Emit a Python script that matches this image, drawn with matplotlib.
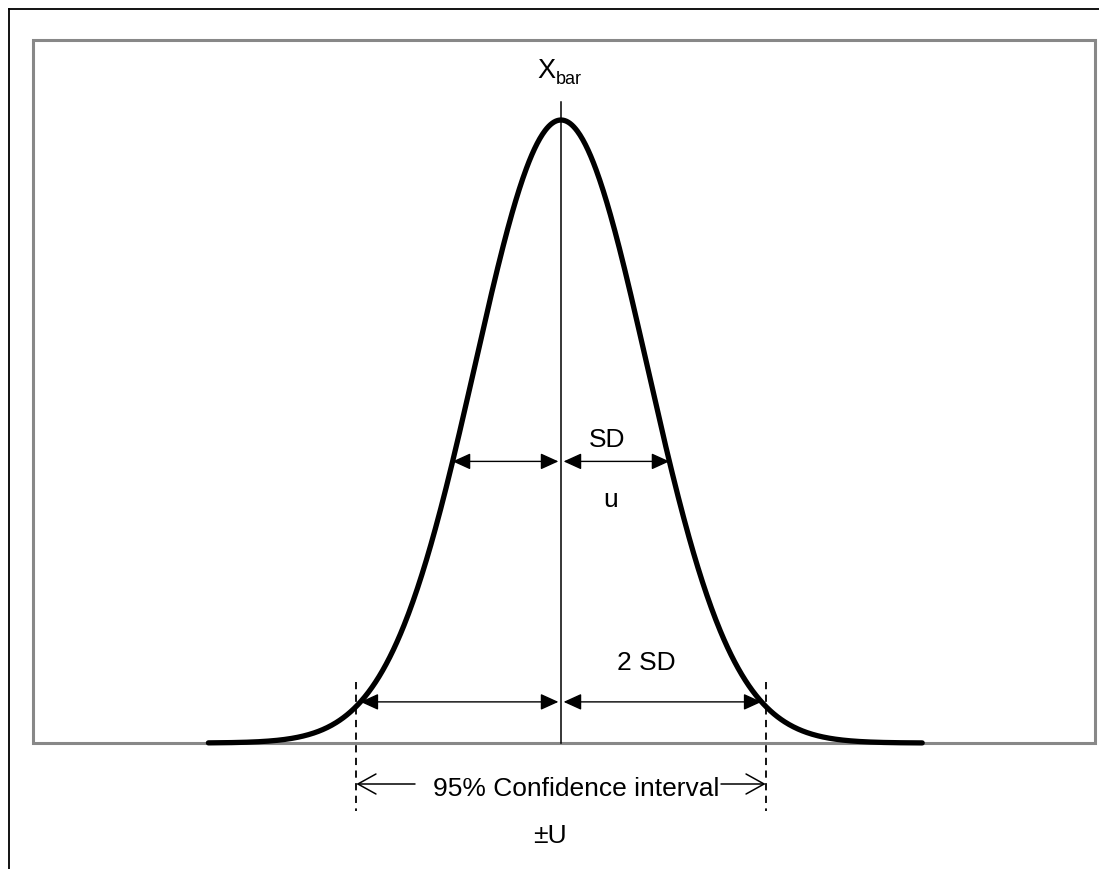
import numpy as np
import matplotlib
matplotlib.use("Agg")
import matplotlib.pyplot as plt
from matplotlib.patches import Rectangle

plt.rcParams['font.family'] = ['Liberation Sans', 'DejaVu Sans']

# ---- diagram data (x in units of SD, y as fraction of the peak height) ----
curve_range = [-4.1, 4.2]          # extent of the drawn bell curve (in SD)
sd_level = 0.452                   # height of the "SD" arrows (fraction of peak)
ci_level = 0.066                   # height of the "2 SD" arrows (fraction of peak)
ci_half_width = 2.38               # half width of the 95 % confidence interval (in SD)
center_top = 1.029                 # top of the central X_bar line
labels = {
    "xbar": "X",
    "xbar_sub": "bar",
    "sd": "SD",
    "u": "u",
    "two_sd": "2 SD",
    "ci": "95% Confidence interval",
    "U": "\u00b1U",
}

# ---- pixel layout of the reference ----
W, H = 1099, 870
MEAN_PX, SIGMA_PX, BASE_PX, PEAK_PX = 561, 86, 744, 623


def dx(px):
    return (px - MEAN_PX) / SIGMA_PX


def dy(py):
    return (BASE_PX - py) / PEAK_PX


fig = plt.figure(figsize=(W / 100, H / 100), dpi=100)
ax = fig.add_axes([0, 0, 1, 1])
ax.set_xlim(dx(0), dx(W))
ax.set_ylim(dy(H), dy(0))
ax.axis('off')

# outer frame (top and left only visible)
ax.plot([dx(8.5), dx(W + 5)], [dy(9.5), dy(9.5)], color='black', lw=1.3,
        solid_capstyle='projecting')
ax.plot([dx(8.5), dx(8.5)], [dy(9.5), dy(H + 5)], color='black', lw=1.3,
        solid_capstyle='projecting')

# inner grey plot box
ax.add_patch(Rectangle((dx(33), dy(744)), dx(1095) - dx(33), dy(41) - dy(744),
                       fill=False, edgecolor='#888888', lw=2.2, zorder=1))

# bell curve
x = np.linspace(curve_range[0], curve_range[1], 800)
y = np.exp(-0.5 * x ** 2)
ax.plot(x, y, color='black', lw=3.8, solid_capstyle='round', zorder=4)

# central line
ax.plot([0, 0], [0, center_top], color='black', lw=1.1, zorder=3)

# arrows at SD level and 2 SD level (ends on the curve)
head = dict(arrowstyle='<|-|>,head_length=0.55,head_width=0.25',
            mutation_scale=20, color='black', lw=1.0, shrinkA=0, shrinkB=0)
for level in (sd_level, ci_level):
    xe = np.sqrt(-2 * np.log(level))
    for s in (-1, 1):
        ax.annotate('', xy=(s * xe, level), xytext=(s * 0.03, level),
                    arrowprops=head, zorder=5)

# dashed verticals marking the confidence interval
for s in (-1, 1):
    ax.plot([s * ci_half_width] * 2, [dy(683), dy(812)], color='black',
            lw=1.3, dashes=(4, 3), zorder=3)

# open arrows for the confidence interval
opn = dict(arrowstyle='->,head_length=0.65,head_width=0.36',
           mutation_scale=20, color='black', lw=1.1, shrinkA=0, shrinkB=0)
ax.annotate('', xy=(-ci_half_width, dy(785)), xytext=(dx(415), dy(785)),
            arrowprops=opn)
ax.annotate('', xy=(ci_half_width, dy(785)), xytext=(dx(721), dy(785)),
            arrowprops=opn)

fs = 19
ax.text(dx(537), dy(78), labels["xbar"], fontsize=fs + 0.5, ha='left', va='baseline')
ax.text(dx(556), dy(84), labels["xbar_sub"], fontsize=13, ha='left', va='baseline')
ax.text(dx(607), dy(447), labels["sd"], fontsize=fs, ha='center', va='baseline')
ax.text(dx(611), dy(507), labels["u"], fontsize=fs, ha='center', va='baseline')
ax.text(dx(646), dy(670), labels["two_sd"], fontsize=fs, ha='center', va='baseline')
ax.text(dx(576), dy(796), labels["ci"], fontsize=fs, ha='center', va='baseline')
ax.text(dx(550), dy(843), labels["U"], fontsize=fs, ha='center', va='baseline')

fig.savefig('out.png', dpi=100)
